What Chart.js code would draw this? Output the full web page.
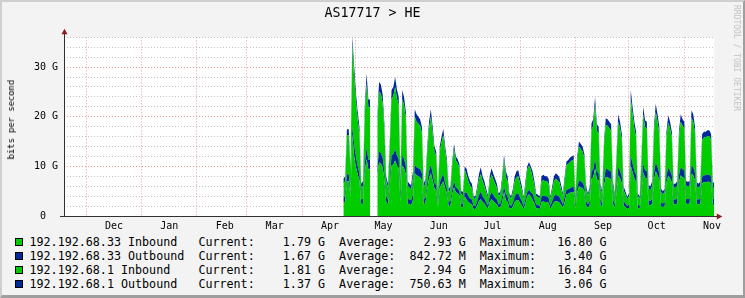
<!DOCTYPE html>
<html>
<head>
<meta charset="utf-8">
<script src="https://cdn.jsdelivr.net/npm/chart.js@4.4.0/dist/chart.umd.min.js"></script>
<style>
  html, body { margin: 0; padding: 0; background: #f3f3f3; }
  #wrap { position: relative; width: 745px; height: 298px; overflow: hidden; background: #f3f3f3; }
  #c { position: absolute; left: 0; top: 0; }
  #frame { position: absolute; left: 0; top: 0; width: 745px; height: 298px; box-sizing: border-box;
           border-top: 2px solid #cfcfcf; border-left: 2px solid #cfcfcf;
           border-right: 2px solid #9e9e9e; border-bottom: 3px solid #9e9e9e; pointer-events: none; }
  #ylabel { position: absolute; left: 6px; top: 80px; font: 8.8px "DejaVu Sans Mono", monospace; line-height: 10px;
            writing-mode: vertical-rl; transform: rotate(180deg); color: #000; white-space: nowrap; }
  #mark { position: absolute; left: 732px; top: 5px; font: 8px "DejaVu Sans Mono", monospace; line-height: 9px;
          writing-mode: vertical-rl; color: #c2c2c2; white-space: nowrap; }
  .row { position: absolute; left: 0; height: 14px; width: 745px; }
  .sw { position: absolute; left: 15px; top: 3px; width: 6px; height: 6px; border: 1px solid #000; }
  .txt { position: absolute; left: 29.5px; top: 0; font: 11.7px "DejaVu Sans Mono", monospace; line-height: 14px;
         color: #000; white-space: pre; }
</style>
</head>
<body>
<div id="wrap">
  <canvas id="c" width="745" height="232"></canvas>
  <div id="ylabel">bits per second</div>
  <div id="mark">RRDTOOL / TOBI OETIKER</div>
  <div id="legend"></div>
  <div id="frame"></div>
</div>
<script>
// days counted from 1 Dec; first sample is day 144 (late April)
const startDay = 144;
const monthStarts = [0, 31, 62, 90, 121, 151, 182, 212, 243, 274, 304, 335];
const monthNames = ['Dec', 'Jan', 'Feb', 'Mar', 'Apr', 'May', 'Jun', 'Jul', 'Aug', 'Sep', 'Oct', 'Nov'];

// values in Gbit/s, one per day, stacked in this order
const in33 = [
  2.6, 2.8, 7.0, 7.0, 4.0, 16.5, 12.2, 10.0, 8.4, 7.2,
  2.3, 2.5, 8.8, 11.5, 9.4, 9.4, null, null, null, 8.0,
  10.8, 10.6, 9.8, 7.4, 2.8, 2.3, 6.0, 10.2, 10.4, 11.2,
  10.2, 9.6, 2.8, 10.2, 9.6, 8.4, 2.5, 2.3, 2.2, 3.2,
  8.6, 8.2, 8.0, 7.8, 7.2, 2.3, 2.6, 5.6, 7.6, 8.6,
  7.2, 5.6, 5.2, 1.9, 5.6, 6.4, 7.0, 5.6, 4.6, 1.9,
  2.1, 4.4, 5.8, 4.8, 4.6, 4.2, 1.8, 1.7, 4.0, 3.3,
  2.8, 2.5, 2.3, 1.4, 1.4, 2.1, 3.0, 3.4, 2.8, 2.5,
  1.9, 1.5, 2.8, 3.4, 3.0, 2.6, 2.3, 1.6, 1.8, 2.8,
  4.9, 3.2, 2.8, 1.6, 1.4, 1.9, 2.8, 3.2, 3.2, 2.6,
  2.1, 1.3, 2.5, 4.0, 4.4, 4.0, 3.2, 2.5, 1.6, 1.5,
  1.4, 2.8, 2.9, 2.8, 2.8, 2.6, 1.4, 2.1, 2.8, 3.0,
  2.9, 2.7, 2.2, 1.6, 2.8, 4.4, 4.5, 4.7, 4.8, 4.9,
  1.4, 4.8, 6.0, 5.8, 5.6, 5.0, 2.1, 1.6, 2.1, 7.5,
  7.8, 9.6, 7.4, 7.2, 2.3, 1.8, 6.0, 7.9, 7.8, 7.6,
  7.4, 2.5, 1.6, 4.8, 8.2, 7.6, 6.6, 2.1, 1.8, 1.4,
  1.6, 10.2, 8.8, 7.6, 6.8, 1.6, 1.4, 4.8, 8.8, 7.7,
  7.6, 2.2, 2.1, 2.5, 7.2, 9.0, 8.2, 7.2, 1.9, 1.8,
  1.9, 6.8, 8.1, 7.6, 6.8, 2.3, 2.3, 2.5, 6.8, 8.2,
  7.8, 7.6, 2.5, 2.4, 2.5, 8.5, 8.2, 7.2, 2.4, 2.3,
  2.5, 6.6, 6.8, 6.8, 6.9, 6.9, 6.6, 2.4, 1.79
];
const out33 = [
  1.1, 1.2, 1.4, 1.4, 0.8, 1.5, 2.4, 2.0, 1.7, 1.4,
  1.0, 1.0, 1.8, 2.3, 1.9, 1.9, null, null, null, 1.6,
  2.2, 2.1, 2.0, 1.5, 1.2, 1.0, 1.2, 2.0, 2.1, 2.2,
  2.0, 1.9, 1.2, 2.0, 1.9, 1.7, 1.0, 1.0, 0.9, 1.3,
  1.7, 1.6, 1.6, 1.6, 1.4, 1.0, 1.1, 1.1, 1.5, 1.7,
  1.4, 1.1, 1.0, 0.8, 1.1, 1.3, 1.4, 1.1, 0.9, 0.8,
  0.9, 0.9, 1.2, 1.0, 0.9, 0.8, 0.7, 0.7, 0.8, 1.4,
  1.2, 1.0, 1.0, 0.6, 0.6, 0.9, 1.3, 1.5, 1.2, 1.0,
  0.8, 0.6, 1.2, 1.4, 1.3, 1.1, 1.0, 0.7, 0.7, 1.2,
  1.0, 1.3, 1.2, 0.7, 0.6, 0.8, 1.2, 1.3, 1.4, 1.1,
  0.9, 0.6, 1.0, 0.8, 0.9, 0.8, 1.3, 1.0, 0.7, 0.7,
  0.6, 1.2, 1.2, 1.2, 1.2, 1.1, 0.6, 0.9, 1.2, 1.3,
  1.2, 1.2, 0.9, 0.7, 1.2, 0.9, 0.9, 0.9, 1.0, 1.0,
  0.6, 1.0, 1.2, 1.2, 1.1, 1.0, 0.9, 0.7, 0.9, 1.5,
  1.6, 1.9, 1.5, 1.4, 1.0, 0.7, 1.2, 1.6, 1.6, 1.5,
  1.5, 1.0, 0.7, 1.0, 1.6, 1.5, 1.3, 0.9, 0.7, 0.6,
  0.7, 2.0, 1.8, 1.5, 1.4, 0.7, 0.6, 1.0, 1.8, 1.5,
  1.5, 0.9, 0.9, 1.0, 1.4, 1.8, 1.6, 1.4, 0.8, 0.7,
  0.8, 1.4, 1.6, 1.5, 1.4, 1.0, 1.0, 1.0, 1.4, 1.6,
  1.6, 1.5, 1.0, 1.0, 1.0, 1.7, 1.6, 1.4, 1.0, 1.0,
  1.0, 1.3, 1.4, 1.4, 1.4, 1.4, 1.3, 1.0, 1.67
];
const in1 = [
  2.8, 3.0, 7.9, 7.9, 4.5, 16.8, 13.7, 11.3, 9.4, 8.1,
  2.4, 2.6, 9.9, 12.9, 10.6, 10.6, null, null, null, 9.0,
  12.1, 11.9, 11.0, 8.3, 3.0, 2.4, 6.8, 11.4, 11.7, 12.6,
  11.5, 10.8, 3.0, 11.4, 10.8, 9.4, 2.6, 2.4, 2.3, 3.3,
  9.7, 9.2, 9.0, 8.8, 8.1, 2.4, 2.8, 6.3, 8.6, 9.7,
  8.1, 6.3, 5.9, 2.1, 6.3, 7.2, 7.9, 6.3, 5.2, 2.1,
  2.2, 5.0, 6.5, 5.4, 5.2, 4.7, 1.9, 1.8, 4.5, 3.5,
  3.0, 2.6, 2.4, 1.5, 1.5, 2.2, 3.1, 3.6, 3.0, 2.6,
  2.1, 1.6, 3.0, 3.6, 3.1, 2.8, 2.4, 1.7, 1.9, 3.0,
  5.5, 3.3, 3.0, 1.7, 1.5, 2.1, 3.0, 3.3, 3.4, 2.8,
  2.2, 1.4, 2.6, 4.5, 4.9, 4.5, 3.3, 2.6, 1.7, 1.6,
  1.5, 3.0, 3.1, 3.0, 3.0, 2.8, 1.4, 2.2, 3.0, 3.2,
  3.1, 2.9, 2.3, 1.7, 3.0, 5.0, 5.1, 5.3, 5.4, 5.5,
  1.5, 5.4, 6.8, 6.5, 6.3, 5.6, 2.2, 1.7, 2.2, 8.4,
  8.8, 10.8, 8.3, 8.1, 2.4, 1.9, 6.8, 8.9, 8.8, 8.6,
  8.3, 2.6, 1.7, 5.4, 9.2, 8.6, 7.4, 2.2, 1.9, 1.4,
  1.7, 11.4, 9.9, 8.6, 7.6, 1.7, 1.5, 5.4, 9.9, 8.7,
  8.6, 2.3, 2.2, 2.6, 8.1, 10.2, 9.2, 8.1, 2.1, 1.9,
  2.1, 7.6, 9.1, 8.6, 7.6, 2.4, 2.4, 2.6, 7.6, 9.2,
  8.8, 8.6, 2.6, 2.6, 2.6, 9.6, 9.2, 8.1, 2.5, 2.4,
  2.6, 7.4, 7.6, 7.6, 7.8, 7.8, 7.4, 2.5, 1.81
];
const out1 = [
  1.0, 1.0, 1.2, 1.2, 0.7, 1.4, 2.2, 1.7, 1.5, 1.3,
  0.8, 0.9, 1.5, 2.0, 1.6, 1.6, null, null, null, 1.4,
  1.9, 1.9, 1.7, 1.3, 1.0, 0.8, 1.0, 1.8, 1.8, 2.0,
  1.8, 1.7, 1.0, 1.8, 1.7, 1.5, 0.9, 0.8, 0.8, 1.2,
  1.5, 1.5, 1.4, 1.3, 1.3, 0.8, 1.0, 1.0, 1.3, 1.5,
  1.3, 1.0, 0.9, 0.7, 1.0, 1.1, 1.3, 1.0, 0.8, 0.7,
  0.8, 0.7, 1.0, 0.8, 0.8, 0.8, 0.6, 0.7, 0.7, 1.3,
  1.0, 0.9, 0.8, 0.5, 0.5, 0.8, 1.1, 1.3, 1.0, 0.9,
  0.7, 0.5, 1.0, 1.2, 1.1, 1.0, 0.8, 0.5, 0.6, 1.0,
  0.9, 1.2, 1.0, 0.5, 0.5, 0.7, 1.0, 1.2, 1.2, 1.0,
  0.8, 0.5, 0.9, 0.7, 0.7, 0.7, 1.2, 0.9, 0.5, 0.5,
  0.5, 1.0, 1.1, 1.0, 1.0, 1.0, 0.5, 0.8, 1.0, 1.1,
  1.1, 1.0, 0.8, 0.6, 1.0, 0.7, 0.8, 0.9, 0.8, 0.9,
  0.5, 0.8, 1.0, 1.0, 1.0, 0.9, 0.8, 0.5, 0.8, 1.3,
  1.3, 1.7, 1.3, 1.3, 0.8, 0.6, 1.0, 1.3, 1.3, 1.3,
  1.3, 0.9, 0.5, 0.8, 1.5, 1.3, 1.2, 0.8, 0.6, 0.5,
  0.5, 1.8, 1.5, 1.3, 1.2, 0.5, 0.5, 0.8, 1.5, 1.4,
  1.3, 0.8, 0.8, 0.9, 1.3, 1.6, 1.5, 1.3, 0.7, 0.6,
  0.7, 1.2, 1.5, 1.3, 1.2, 0.8, 0.8, 0.9, 1.2, 1.5,
  1.3, 1.3, 0.9, 0.9, 0.9, 1.5, 1.5, 1.3, 0.9, 0.8,
  0.9, 1.2, 1.2, 1.2, 1.2, 1.2, 1.2, 0.9, 1.37
];

const legendNames = ['192.192.68.33 Inbound', '192.192.68.33 Outbound', '192.192.68.1 Inbound', '192.192.68.1 Outbound'];
const legendCurrent = ['1.79 G', '1.67 G', '1.81 G', '1.37 G'];
const legendAverage = ['2.93 G', '842.72 M', '2.94 G', '750.63 M'];
const legendMaximum = ['16.80 G', '3.40 G', '16.84 G', '3.06 G'];

const inColor = '#00cc00';
const outColor = '#002a97';
const seriesColors = [inColor, outColor, inColor, outColor];
const majorGrid = 'rgba(225,90,90,0.6)';
const minorGrid = 'rgba(170,170,170,0.7)';
const tickFont = { family: 'DejaVu Sans Mono', size: 10 };

// legend rows
const legendBox = document.getElementById('legend');
legendNames.forEach((name, i) => {
  const row = document.createElement('div');
  row.className = 'row';
  row.style.top = (234.5 + i * 14) + 'px';
  const sw = document.createElement('div');
  sw.className = 'sw';
  sw.style.background = seriesColors[i];
  const txt = document.createElement('div');
  txt.className = 'txt';
  txt.textContent = name.padEnd(24) + 'Current:' + legendCurrent[i].padStart(10) +
    '  Average:' + legendAverage[i].padStart(10) + '  Maximum:' + legendMaximum[i].padStart(10);
  row.appendChild(sw);
  row.appendChild(txt);
  legendBox.appendChild(row);
});

function toPoints(values) {
  return values.map((v, i) => ({ x: startDay + i, y: v }));
}

const labelDays = monthStarts.map(d => d + 15.5);
const xTickDays = monthStarts.concat(labelDays).sort((a, b) => a - b);

// white plot background, axis lines and the little red arrows
const rrdAxes = {
  id: 'rrdAxes',
  beforeDraw(chart) {
    const { ctx, chartArea: a } = chart;
    ctx.save();
    ctx.fillStyle = '#ffffff';
    ctx.fillRect(a.left, a.top, a.right - a.left, a.bottom - a.top);
    ctx.restore();
  },
  afterDatasetsDraw(chart) {
    const { ctx, chartArea: a } = chart;
    ctx.save();
    ctx.strokeStyle = '#303030';
    ctx.lineWidth = 1;
    ctx.beginPath();
    ctx.moveTo(a.left + 0.5, a.top - 4);
    ctx.lineTo(a.left + 0.5, a.bottom + 0.5);
    ctx.moveTo(a.left - 4, a.bottom + 0.5);
    ctx.lineTo(a.right + 3, a.bottom + 0.5);
    ctx.stroke();
    ctx.fillStyle = '#8b1c1c';
    ctx.beginPath();
    ctx.moveTo(a.left + 0.5, a.top - 8.5);
    ctx.lineTo(a.left - 2.5, a.top - 3);
    ctx.lineTo(a.left + 3.5, a.top - 3);
    ctx.closePath();
    ctx.fill();
    ctx.beginPath();
    ctx.moveTo(a.right + 8, a.bottom + 0.5);
    ctx.lineTo(a.right + 2.5, a.bottom - 2.5);
    ctx.lineTo(a.right + 2.5, a.bottom + 3.5);
    ctx.closePath();
    ctx.fill();
    ctx.restore();
  }
};

const ds = (label, values, color, fill) => ({
  label: label,
  data: toPoints(values),
  backgroundColor: color,
  borderColor: 'rgba(0,0,0,0)',
  borderWidth: 0,
  pointRadius: 0,
  tension: 0,
  fill: fill
});

new Chart(document.getElementById('c'), {
  type: 'line',
  data: {
    datasets: [
      ds(legendNames[0], in33, inColor, 'origin'),
      ds(legendNames[1], out33, outColor, '-1'),
      ds(legendNames[2], in1, inColor, '-1'),
      ds(legendNames[3], out1, outColor, '-1')
    ]
  },
  options: {
    responsive: false,
    animation: false,
    events: [],
    devicePixelRatio: 1,
    layout: { padding: 0 },
    plugins: {
      legend: { display: false },
      tooltip: { enabled: false },
      title: {
        display: true,
        text: 'AS17717 > HE',
        color: '#000',
        font: { family: 'DejaVu Sans Mono', size: 13.3, weight: 'normal' },
        padding: { top: 6, bottom: 15.4 }
      }
    },
    scales: {
      x: {
        type: 'linear',
        min: -12.5,
        max: 351.8,
        afterBuildTicks: scale => { scale.ticks = xTickDays.map(v => ({ value: v })); },
        afterFit: scale => { scale.height = 16; },
        grid: {
          drawTicks: false,
          color: ctx => (ctx.tick && monthStarts.includes(ctx.tick.value)) ? majorGrid : 'rgba(0,0,0,0)'
        },
        border: { display: false, dash: [1, 2] },
        ticks: {
          autoSkip: false,
          maxRotation: 0,
          padding: 4,
          color: '#000',
          font: tickFont,
          callback: v => {
            const k = labelDays.indexOf(v);
            return k >= 0 ? monthNames[k] : '';
          }
        }
      },
      y: {
        stacked: true,
        min: 0,
        max: 36,
        afterFit: scale => { scale.width = 64; },
        grid: {
          drawTicks: false,
          color: ctx => (ctx.tick && ctx.tick.value % 10 === 0) ? majorGrid : minorGrid
        },
        border: { display: false, dash: [1, 2] },
        ticks: {
          stepSize: 2,
          autoSkip: false,
          padding: 6,
          color: '#000',
          font: tickFont,
          callback: v => (v % 10 ? '' : (v === 0 ? '0  ' : v + ' G'))
        }
      },
      // empty right-hand axis that only reserves the margin beside the plot
      margin: {
        type: 'linear',
        position: 'right',
        display: true,
        afterFit: scale => { scale.width = 30.7; },
        grid: { display: false, drawOnChartArea: false },
        border: { display: false },
        ticks: { display: false }
      }
    }
  },
  plugins: [rrdAxes]
});
</script>
</body>
</html>
